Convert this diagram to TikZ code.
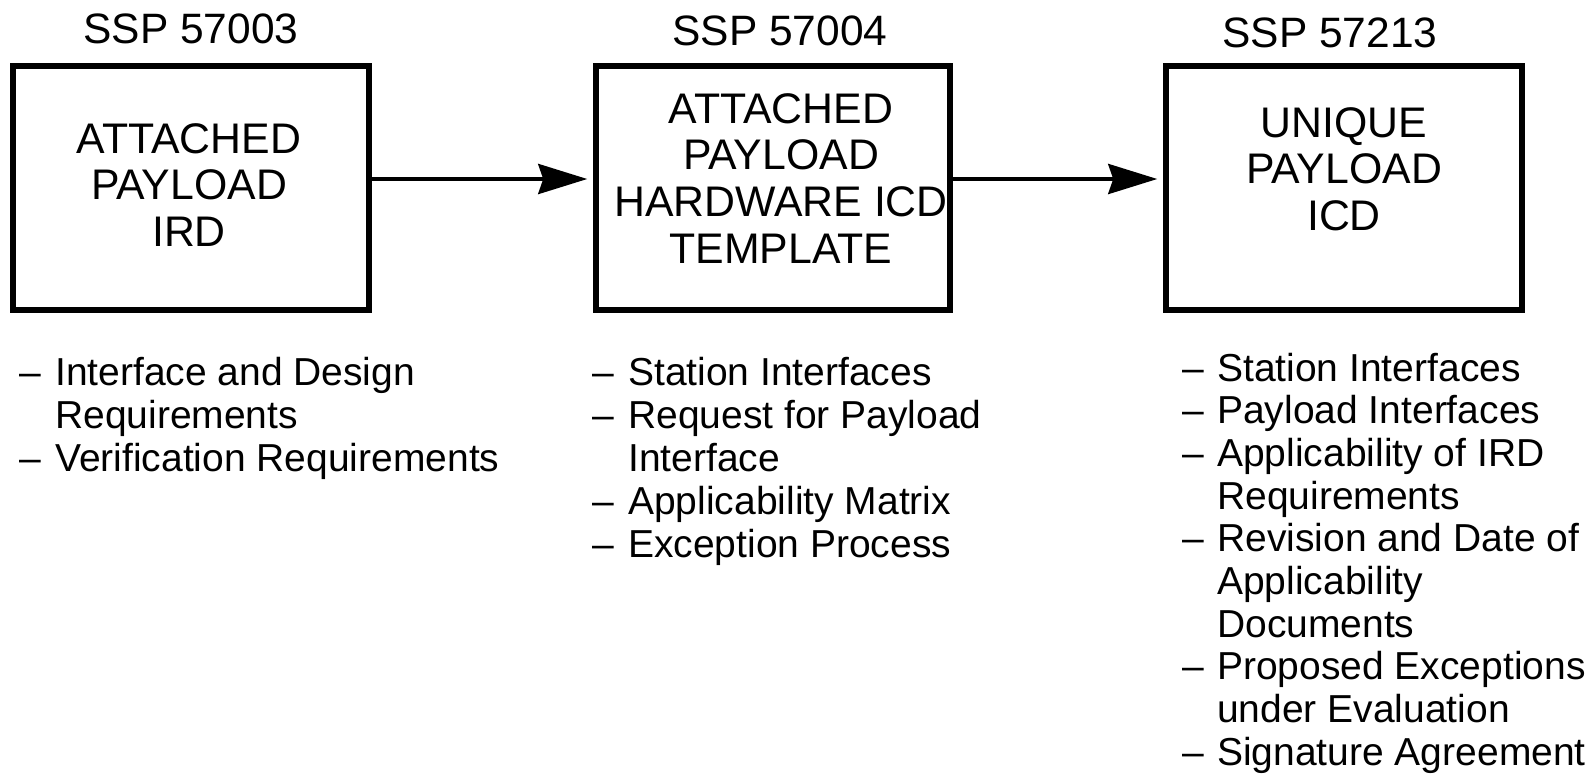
\documentclass[tikz,border=0pt]{standalone}
\usepackage{fontspec}
\setmainfont{Liberation Sans}
\usetikzlibrary{arrows.meta}
\tikzset{
  box/.style={draw, line width=5.5pt, minimum width=356pt, minimum height=244pt, inner sep=0pt},
  conn/.style={line width=4pt, -{Stealth[length=49pt,width=30pt,inset=5pt]}, shorten >=6pt},
  title/.style={inner sep=0pt, anchor=base, font=\fontsize{42.5}{46}\selectfont},
  boxtext/.style={inner sep=0pt, anchor=base, font=\fontsize{42.8}{46.7}\selectfont},
  items/.style={inner sep=0pt, anchor=base west, font=\fontsize{39}{43}\selectfont},
}
\begin{document}
\begin{tikzpicture}[x=1pt,y=-1pt]
\useasboundingbox[fill=white] (0,0) rectangle (1592,774);

% titles
\node[title] (t1) at (191,43) {SSP 57003};
\node[title] (t2) at (780,45) {SSP 57004};
\node[title] (t3) at (1330,47) {SSP 57213};

% boxes
\node[box] (b1) at (191,188) {};
\node[box, minimum width=354pt] (b2) at (773,188) {};
\node[box] (b3) at (1344,188) {};

% box texts
\node[boxtext] (x1) at (189,153) {\begin{tabular}[t]{@{}c@{}}ATTACHED\\PAYLOAD\\IRD\end{tabular}};
\node[boxtext] (x2) at (781,123) {\begin{tabular}[t]{@{}c@{}}ATTACHED\\PAYLOAD\\HARDWARE ICD\\TEMPLATE\end{tabular}};
\node[boxtext] (x3) at (1344,137) {\begin{tabular}[t]{@{}c@{}}UNIQUE\\PAYLOAD\\ICD\end{tabular}};

% connectors
\draw[conn] ([yshift=9pt]b1.east) -- ([yshift=9pt]b2.west);
\draw[conn] ([yshift=9pt]b2.east) -- ([yshift=9pt]b3.west);

% lists
\node[items] (l1) at (19,385) {\begin{tabular}[t]{@{}p{36pt}@{}l@{}}
\textendash & Interface and Design\\
 & Requirements\\
\textendash & Verification Requirements
\end{tabular}};
\node[items] (l2) at (592,385) {\begin{tabular}[t]{@{}p{36pt}@{}l@{}}
\textendash & Station Interfaces\\
\textendash & Request for Payload\\
 & Interface\\
\textendash & Applicability Matrix\\
\textendash & Exception Process
\end{tabular}};
\node[items, font=\fontsize{39}{42.7}\selectfont] (l3) at (1182,381) {\begin{tabular}[t]{@{}p{35pt}@{}l@{}}
\textendash & Station Interfaces\\
\textendash & Payload Interfaces\\
\textendash & Applicability of IRD\\
 & Requirements\\
\textendash & Revision and Date of\\
 & Applicability\\
 & Documents\\
\textendash & Proposed Exceptions\\
 & under Evaluation\\
\textendash & Signature Agreement
\end{tabular}};
\end{tikzpicture}
\end{document}
